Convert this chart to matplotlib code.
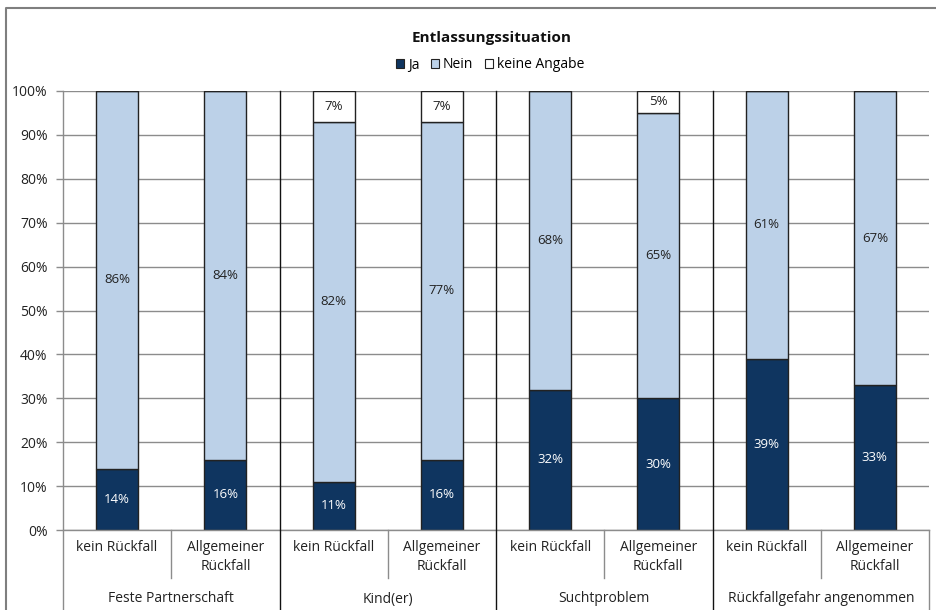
import matplotlib.pyplot as plt
from matplotlib.patches import Patch
import numpy as np

plt.rcParams['font.family'] = ['Open Sans', 'DejaVu Sans']

# data (percent)
groups = ['Feste Partnerschaft', 'Kind(er)', 'Suchtproblem', 'Rückfallgefahr angenommen']
subcats = ['kein Rückfall', 'Allgemeiner\nRückfall'] * 4
ja = [14, 16, 11, 16, 32, 30, 39, 33]
nein = [86, 84, 82, 77, 68, 65, 61, 67]
keine = [0, 0, 7, 7, 0, 5, 0, 0]

c_ja = '#0f3560'
c_nein = '#bcd1e8'
c_keine = '#ffffff'
edge = '#222222'

W, H = 936, 610
fig = plt.figure(figsize=(W / 100, H / 100), dpi=100)
ax0, ax1, ay0, ay1 = 63, 929, 530, 91
ax = fig.add_axes([ax0 / W, 1 - ay0 / H, (ax1 - ax0) / W, (ay0 - ay1) / H])

x = np.arange(len(ja))
ja_f = np.array(ja) / 100
nein_f = np.array(nein) / 100
keine_f = np.array(keine) / 100
bw = 0.39
ax.bar(x, ja_f, bw, color=c_ja, edgecolor=edge, linewidth=1, zorder=3)
ax.bar(x, nein_f, bw, bottom=ja_f, color=c_nein, edgecolor=edge, linewidth=1, zorder=3)
ax.bar(x, keine_f, bw, bottom=ja_f + nein_f, color=c_keine, edgecolor=edge, linewidth=1, zorder=3)

# data labels
for i in range(len(ja)):
    ax.text(x[i], ja_f[i] / 2, f'{ja[i]}%', ha='center', va='center', color='white', fontsize=9.5, zorder=4)
    ax.text(x[i], ja_f[i] + nein_f[i] / 2, f'{nein[i]}%', ha='center', va='center', color='#222222', fontsize=9.5, zorder=4)
    if keine[i] > 0:
        ax.text(x[i], ja_f[i] + nein_f[i] + keine_f[i] / 2, f'{keine[i]}%', ha='center', va='center',
                color='#222222', fontsize=9.5, zorder=4)

ax.set_xlim(-0.5, len(ja) - 0.5)
ax.set_ylim(0, 1)
ax.set_yticks(np.arange(0, 1.01, 0.1))
ax.set_yticklabels([f'{int(round(v * 100))}%' for v in np.arange(0, 1.01, 0.1)], fontsize=10, color='#222222')
ax.set_xticks([])
ax.yaxis.grid(True, color='#8c8c8c', linewidth=1)
ax.set_axisbelow(True)
ax.tick_params(axis='y', length=5, width=1, color='#8c8c8c', pad=6)
for s in ['top', 'right', 'bottom', 'left']:
    ax.spines[s].set_visible(False)

def fy(py):
    return 1 - py / H

def fx(px):
    return px / W

# axis lines below the plot
fig.add_artist(plt.Line2D([fx(ax0), fx(ax0)], [fy(610), fy(ay1)], color='#8c8c8c', linewidth=1))
fig.add_artist(plt.Line2D([fx(ax0), fx(ax1)], [fy(ay0), fy(ay0)], color='#8c8c8c', linewidth=1))
fig.add_artist(plt.Line2D([fx(ax1), fx(ax1)], [fy(ay0), fy(610)], color='#8c8c8c', linewidth=1))

slot = (ax1 - ax0) / len(ja)
# group separators (dark, full height)
for g in range(1, len(groups)):
    px = ax0 + slot * 2 * g
    fig.add_artist(plt.Line2D([fx(px), fx(px)], [fy(610), fy(ay1)], color='#111111', linewidth=1))
# sub-category separators
for g in range(len(groups)):
    px = ax0 + slot * (2 * g + 1)
    fig.add_artist(plt.Line2D([fx(px), fx(px)], [fy(578), fy(ay0)], color='#8c8c8c', linewidth=1))

# category labels
for i, lab in enumerate(subcats):
    px = ax0 + slot * (i + 0.5)
    fig.text(fx(px), fy(540), lab, ha='center', va='top', fontsize=10, color='#222222', linespacing=1.35)
for g, lab in enumerate(groups):
    px = ax0 + slot * (2 * g + 1)
    fig.text(fx(px), fy(599), lab, ha='center', va='center', fontsize=10, color='#222222')

# outer frame
fig.add_artist(plt.Line2D([fx(6), fx(6), fx(936)], [fy(610), fy(8), fy(8)], color='#7f7f7f', linewidth=1.5))

# title and legend
fig.text(fx(492), fy(38), 'Entlassungssituation', ha='center', va='center', fontsize=11, fontweight='bold',
         color='#111111')
handles = [Patch(facecolor=c_ja, edgecolor=edge, linewidth=0.8),
           Patch(facecolor=c_nein, edgecolor=edge, linewidth=0.8),
           Patch(facecolor=c_keine, edgecolor=edge, linewidth=0.8)]
fig.legend(handles, ['Ja', 'Nein', 'keine Angabe'], loc='center', bbox_to_anchor=(fx(490), fy(65)),
           ncol=3, frameon=False, fontsize=10, handlelength=0.6, handleheight=0.6,
           handletextpad=0.3, columnspacing=0.8, borderpad=0)

plt.savefig('out.png', dpi=100)
